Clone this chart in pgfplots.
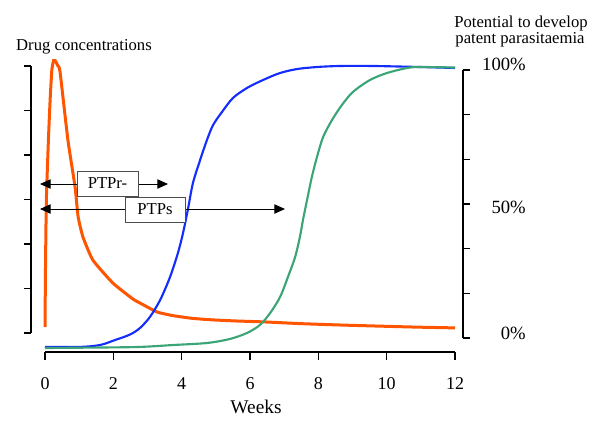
\documentclass[border=0pt]{standalone}
\usepackage{fontspec}
\setmainfont{Liberation Serif}
\usepackage{pgfplots}
\pgfplotsset{compat=1.18}
\usetikzlibrary{arrows.meta}
\definecolor{drugorange}{RGB}{255,85,0}
\definecolor{pblue}{RGB}{20,45,250}
\definecolor{pgreen}{RGB}{60,165,120}
\begin{document}
\begin{tikzpicture}
\useasboundingbox (0,0) rectangle (450pt,327.75pt);
% left axis: drug concentrations
\begin{axis}[scale only axis, width=318pt, height=200.25pt,
  at={(23.25pt,78pt)}, anchor=south west,
  xmin=-0.4098, xmax=12, ymin=0, ymax=6,
  axis x line=none, axis y line=left,
  axis line style={-, line width=1.1pt},
  ytick={0,1,2,3,4,5,6}, yticklabels={},
  tick align=outside, major tick length=5pt,
  tick style={line width=1.1pt, black},
  clip=false]
\addplot[drugorange, line width=2.25pt, smooth, tension=0.3] coordinates {
(0,0.135) (0.015,1.5) (0.04,3.0) (0.10,4.34) (0.15,5.24) (0.20,5.91)
(0.25,6.12) (0.30,6.12) (0.38,6.0) (0.44,5.87) (0.67,4.34) (0.88,3.28)
(0.97,2.61) (1.11,2.16) (1.40,1.64) (1.99,1.12) (2.58,0.76) (2.78,0.674)
(3.28,0.472) (3.75,0.39) (4.3,0.33) (4.9,0.295) (5.6,0.27) (6.4,0.25)
(7.5,0.21) (8.63,0.18) (10,0.15) (11,0.13) (12,0.115)
};
\end{axis}
% right axis: potential to develop patent parasitaemia
\begin{axis}[scale only axis, width=324pt, height=201pt,
  at={(23.25pt,74.25pt)}, anchor=south west,
  xmin=-0.4098, xmax=12.234, ymin=0, ymax=6,
  axis x line=none, axis y line=right,
  axis line style={-, line width=1.1pt},
  ytick={0,1,2,3,4,5,6}, yticklabels={},
  tick align=outside, major tick length=5pt,
  tick style={line width=1.1pt, black},
  clip=false]
\addplot[pblue, line width=1.6pt, smooth, tension=0.5] coordinates {
(0,-0.20) (1.02,-0.20) (1.61,-0.157) (2.05,-0.045) (2.49,0.078) (2.78,0.224)
(3.07,0.470) (3.37,0.851) (3.66,1.366) (3.89,1.903) (4.04,2.351) (4.19,2.910)
(4.33,3.470) (4.54,3.985) (4.74,4.433) (4.92,4.769) (5.18,5.060) (5.50,5.373)
(5.91,5.597) (6.38,5.776) (6.88,5.933) (7.38,6.022) (7.96,6.067) (8.63,6.090)
(9.60,6.090) (10.98,6.067) (12,6.045)
};
\addplot[pgreen, line width=1.6pt, smooth, tension=0.5] coordinates {
(0,-0.224) (1.61,-0.213) (2.78,-0.20) (3.75,-0.157) (4.74,-0.112) (5.41,-0.022)
(5.91,0.112) (6.29,0.291) (6.59,0.560) (6.88,0.918) (7.11,1.366) (7.32,1.813)
(7.46,2.261) (7.55,2.642) (7.67,3.090) (7.81,3.604) (7.96,4.052) (8.14,4.500)
(8.40,4.881) (8.69,5.216) (9.01,5.507) (9.51,5.776) (10.01,5.933) (10.60,6.045)
(10.98,6.067) (12,6.056)
};
\end{axis}
% bottom axis: weeks
\begin{axis}[scale only axis, width=307.5pt, height=20pt,
  at={(33.75pt,63.75pt)}, anchor=south west,
  xmin=0, xmax=12, ymin=0, ymax=1,
  axis y line=none, axis x line=bottom,
  axis line style={-, line width=1.1pt},
  xtick={0,2,4,6,8,10,12},
  tick align=outside, major tick length=6pt,
  tick style={line width=1.1pt, black},
  /pgf/number format/assume math mode=true,
  xticklabel style={font=\fontsize{13.5}{16}\selectfont, anchor=base, yshift=-22pt}]
\end{axis}
\begin{scope}[shift={(0pt,327.75pt)}, x=0.75pt, y=-0.75pt]
% titles and labels
\node[anchor=base, font=\fontsize{12.5}{15}\selectfont] at (84,50) {Drug concentrations};
\node[anchor=base, font=\fontsize{12.5}{15}\selectfont] at (521,27) {Potential to develop};
\node[anchor=base, font=\fontsize{12.5}{15}\selectfont] at (520,43) {patent parasitaemia};
\node[anchor=base east, inner sep=0pt, font=\fontsize{14}{16}\selectfont] at (526,70) {100\%};
\node[anchor=base east, inner sep=0pt, font=\fontsize{14}{16}\selectfont] at (526,213) {50\%};
\node[anchor=base east, inner sep=0pt, font=\fontsize{14}{16}\selectfont] at (526,339) {0\%};
\node[anchor=base, font=\fontsize{14.5}{17}\selectfont] at (256,413) {Weeks};
% PTP arrows
\draw[line width=0.75pt, {Triangle[length=8pt,width=7pt]}-{Triangle[length=8pt,width=7pt]}] (40,184) -- (168,184);
\draw[line width=0.75pt, {Triangle[length=8pt,width=7pt]}-{Triangle[length=8pt,width=7pt]}] (40,209) -- (285,209);
\node[draw=black!70, fill=white, line width=0.75pt, minimum width=45.75pt, minimum height=18.75pt, inner sep=0pt, font=\fontsize{12.5}{15}\selectfont] at (107.5,183.5) {PTPr-};
\node[draw=black!70, fill=white, line width=0.75pt, minimum width=45pt, minimum height=18.75pt, inner sep=0pt, font=\fontsize{12.5}{15}\selectfont] at (155,209.5) {PTPs};
\end{scope}
\end{tikzpicture}
\end{document}
